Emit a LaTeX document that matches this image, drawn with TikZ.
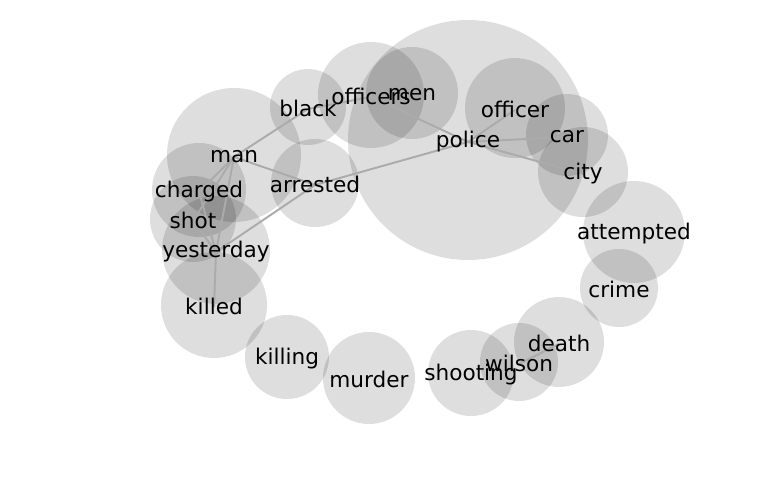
\documentclass[tikz,border=0pt]{standalone}
\usepackage{fontspec}
\setmainfont{DejaVu Sans}
\usepackage{tikz}
\pgfdeclarelayer{bubbles}
\pgfdeclarelayer{links}
\pgfsetlayers{bubbles,links,main}
\begin{document}
\begin{tikzpicture}[
  x=0.02cm,y=-0.02cm,
  word/.style={inner sep=0pt,yshift=-1.1pt,font=\fontsize{12.3}{14}\selectfont},
  bubble/.style={fill=black,fill opacity=0.13},
  link/.style={draw=black!33,line width=1.1pt}
]
\useasboundingbox (0,0) rectangle (768,500);
% words
\node[word] (police) at (468,140) {police};
\node[word] (men) at (412,93) {men};
\node[word] (officers) at (371,95) {officers};
\node[word] (black) at (308,107) {black};
\node[word] (officer) at (515,108) {officer};
\node[word] (car) at (567,135) {car};
\node[word] (city) at (583,172) {city};
\node[word] (attempted) at (634,232) {attempted};
\node[word] (crime) at (619,288) {crime};
\node[word] (death) at (559,342) {death};
\node[word] (wilson) at (519,362) {wilson};
\node[word] (shooting) at (471,373) {shooting};
\node[word] (murder) at (369,378) {murder};
\node[word] (killing) at (287,357) {killing};
\node[word] (killed) at (214,305) {killed};
\node[word] (yesterday) at (216,250) {yesterday};
\node[word] (shot) at (193,219) {shot};
\node[word] (charged) at (199,190) {charged};
\node[word] (man) at (234,155) {man};
\node[word] (arrested) at (315,183) {arrested};
% circles
\begin{pgfonlayer}{bubbles}
\fill[bubble] (468,140) circle (120);
\fill[bubble] (412,93) circle (46);
\fill[bubble] (371,95) circle (53);
\fill[bubble] (308,107) circle (38);
\fill[bubble] (515,108) circle (50);
\fill[bubble] (567,135) circle (41);
\fill[bubble] (583,172) circle (45);
\fill[bubble] (634,232) circle (51);
\fill[bubble] (619,288) circle (39);
\fill[bubble] (559,342) circle (45);
\fill[bubble] (519,362) circle (39);
\fill[bubble] (471,373) circle (43);
\fill[bubble] (369,378) circle (46);
\fill[bubble] (287,357) circle (42);
\fill[bubble] (214,305) circle (53);
\fill[bubble] (216,250) circle (54);
\fill[bubble] (193,219) circle (43);
\fill[bubble] (199,190) circle (47);
\fill[bubble] (234,155) circle (67);
\fill[bubble] (315,183) circle (44);
\end{pgfonlayer}
% links
\begin{pgfonlayer}{links}
\draw[link] (black.center)--(officers.center);
\draw[link] (officers.center)--(police.center);
\draw[link] (man.center)--(black.center);
\draw[link] (man.center)--(arrested.center);
\draw[link] (arrested.center)--(police.center);
\draw[link] (arrested.center)--(yesterday.center);
\draw[link] (man.center)--(charged.center);
\draw[link] (man.center)--(shot.center);
\draw[link] (man.center)--(yesterday.center);
\draw[link] (charged.center)--(yesterday.center);
\draw[link] (shot.center)--(yesterday.center);
\draw[link] (yesterday.center)--(killed.center);
\draw[link] (police.center)--(officer.center);
\draw[link] (police.center)--(car.center);
\draw[link] (police.center)--(city.center);
\draw[link] (wilson.center)--(death.center);
\end{pgfonlayer}
\end{tikzpicture}
\end{document}
